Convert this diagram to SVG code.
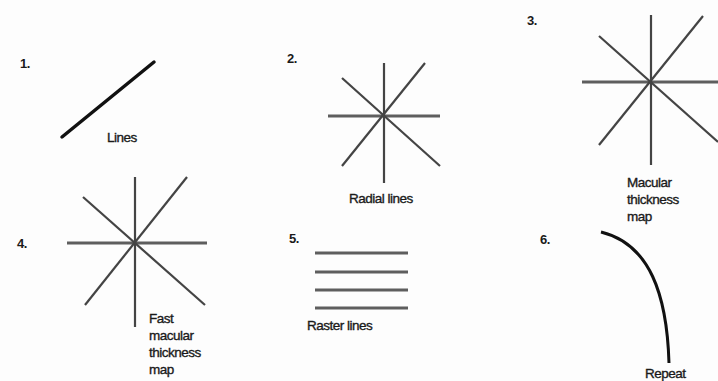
<svg xmlns="http://www.w3.org/2000/svg" width="718" height="381" viewBox="0 0 718 381">
<style>
text{font-family:"Liberation Sans",Arial,sans-serif;font-size:13.5px;fill:#1a1a1a;stroke:#1a1a1a;stroke-width:0.35;letter-spacing:-0.5px}
.num{font-weight:bold;font-size:13px;stroke:none}
.ln{stroke:#444;stroke-width:2.2;stroke-linecap:butt;fill:none}
.hz{stroke:#5e5e5e;stroke-width:3;fill:none}
.blk{stroke:#111;stroke-width:3.5;stroke-linecap:round;fill:none}
</style>
<rect width="718" height="381" fill="#fdfdfd"/>
<g id="panel1">
<text class="num" x="20" y="68">1.</text>
<line class="blk" x1="62" y1="137" x2="154" y2="62"/>
<text x="107" y="142">Lines</text>
</g>
<g id="panel2">
<text class="num" x="287" y="63">2.</text>
<line class="hz" x1="328" y1="116" x2="440" y2="116"/>
<line class="ln" x1="384" y1="63" x2="384" y2="183"/>
<line class="ln" x1="425" y1="63" x2="342" y2="166"/>
<line class="ln" x1="342" y1="78" x2="440" y2="166"/>
<text x="349" y="203">Radial lines</text>
</g>
<g id="panel3">
<text class="num" x="527" y="25">3.</text>
<line class="hz" x1="582" y1="82" x2="718" y2="82"/>
<line class="ln" x1="651" y1="15" x2="651" y2="165"/>
<line class="ln" x1="703" y1="16" x2="599" y2="145"/>
<line class="ln" x1="599" y1="36" x2="718" y2="142"/>
<text x="627" y="187">Macular</text>
<text x="627" y="204">thickness</text>
<text x="627" y="221">map</text>
</g>
<g id="panel4">
<text class="num" x="17" y="248">4.</text>
<line class="hz" x1="67" y1="243" x2="207" y2="243"/>
<line class="ln" x1="135" y1="177" x2="135" y2="327"/>
<line class="ln" x1="187" y1="177" x2="85" y2="305"/>
<line class="ln" x1="83" y1="197" x2="205" y2="305"/>
<text x="149" y="323">Fast</text>
<text x="149" y="340">macular</text>
<text x="149" y="357">thickness</text>
<text x="149" y="374">map</text>
</g>
<g id="panel5">
<text class="num" x="289" y="243">5.</text>
<line class="hz" x1="315" y1="253" x2="408" y2="253"/>
<line class="hz" x1="315" y1="272" x2="408" y2="272"/>
<line class="hz" x1="315" y1="290" x2="408" y2="290"/>
<line class="hz" x1="315" y1="308" x2="408" y2="308"/>
<text x="307" y="330">Raster lines</text>
</g>
<g id="panel6">
<text class="num" x="540" y="244">6.</text>
<path class="blk" style="stroke-width:3;stroke-linecap:butt" d="M601,232 C650,244 667,295 669,363"/>
<text x="645" y="378">Repeat</text>
</g>
<g id="connectors"></g>
</svg>
